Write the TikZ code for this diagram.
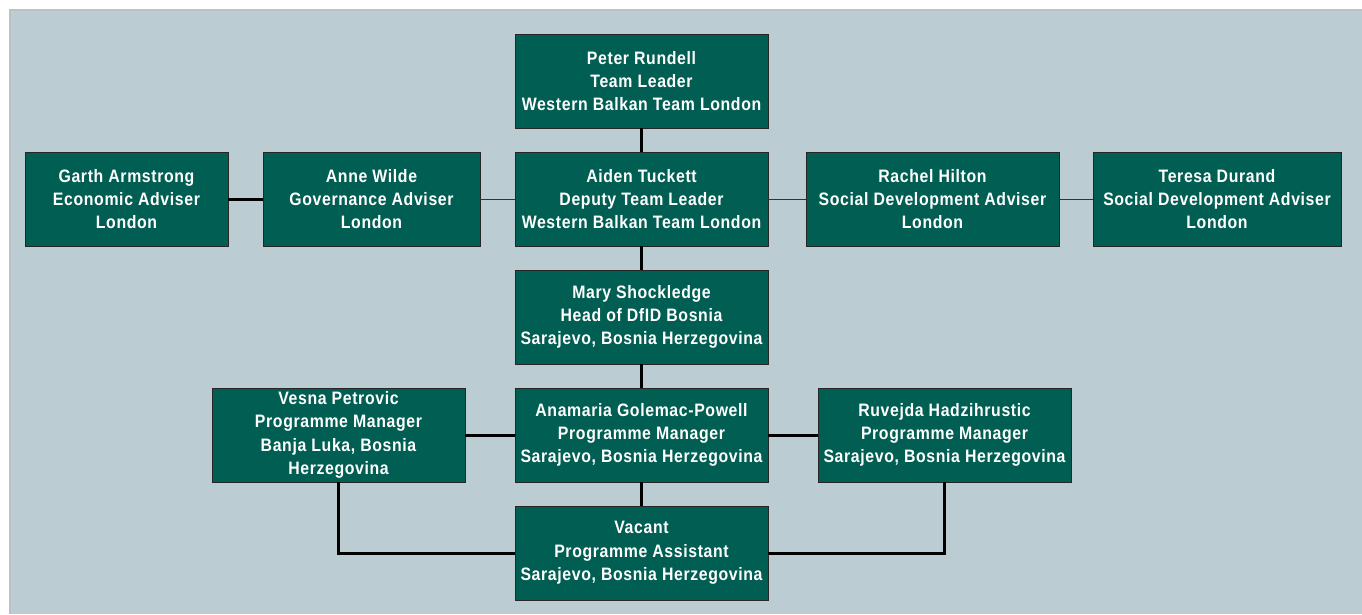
\documentclass[tikz,border=0pt]{standalone}
\usepackage{fontspec}
\setmainfont{Liberation Sans}[FakeStretch=0.88, LetterSpace=3.5]
\usetikzlibrary{positioning}
\definecolor{teal}{RGB}{0,94,82}
\definecolor{backgr}{RGB}{187,205,211}
\tikzset{post/.style={rectangle, draw=black!85, line width=1pt, fill=teal,
    text=white, align=center, inner sep=0pt, outer sep=0pt, minimum width=253pt,
    minimum height=94pt, font=\fontsize{18}{23.3}\selectfont\bfseries},
  heavy/.style={line width=3pt, black},
  light/.style={line width=1pt, black!80}}

\begin{document}
\begin{tikzpicture}[x=1pt, y=1pt, node distance=24pt]
  \useasboundingbox (0,0) rectangle (1362,-614);
  \fill [backgr] (10,-10) rectangle (1362,-614);
  \draw [black!25, line width=1.5pt] (10,-614) -- (10,-10) -- (1362,-10);
  % Place nodes
  \node [post] (peter) at (641.5,-81) {Peter Rundell\\Team Leader\\Western Balkan Team London};
  \node [post, below=of peter] (aiden) {Aiden Tuckett\\Deputy Team Leader\\Western Balkan Team London};
  \node [post, minimum width=217pt, left=35pt of aiden] (anne) {Anne Wilde\\Governance Adviser\\London};
  \node [post, minimum width=203pt, left=35pt of anne] (garth) {Garth Armstrong\\Economic Adviser\\London};
  \node [post, right=38pt of aiden] (rachel) {Rachel Hilton\\Social Development Adviser\\London};
  \node [post, minimum width=248pt, right=34pt of rachel] (teresa) {Teresa Durand\\Social Development Adviser\\London};
  \node [post, below=of aiden] (mary) {Mary Shockledge\\Head of DfID Bosnia\\Sarajevo, Bosnia Herzegovina};
  \node [post, below=of mary] (anamaria) {Anamaria Golemac-Powell\\Programme Manager\\Sarajevo, Bosnia Herzegovina};
  \node [post, left=50pt of anamaria] (vesna) {Vesna Petrovic\\Programme Manager\\Banja Luka, Bosnia\\Herzegovina};
  \node [post, right=50pt of anamaria] (ruvejda) {Ruvejda Hadzihrustic\\Programme Manager\\Sarajevo, Bosnia Herzegovina};
  \node [post, below=of anamaria] (vacant) {Vacant\\Programme Assistant\\Sarajevo, Bosnia Herzegovina};
  % Draw edges
  \draw [heavy] (peter) -- (aiden);
  \draw [light] (aiden) -- (anne);
  \draw [heavy] (anne) -- (garth);
  \draw [light] (aiden) -- (rachel);
  \draw [light] (rachel) -- (teresa);
  \draw [heavy] (aiden) -- (mary);
  \draw [heavy] (mary) -- (anamaria);
  \draw [heavy] (anamaria) -- (vesna);
  \draw [heavy] (anamaria) -- (ruvejda);
  \draw [heavy] (anamaria) -- (vacant);
  \draw [heavy] (vesna.south) |- (vacant.west);
  \draw [heavy] (ruvejda.south) |- (vacant.east);
\end{tikzpicture}
\end{document}
